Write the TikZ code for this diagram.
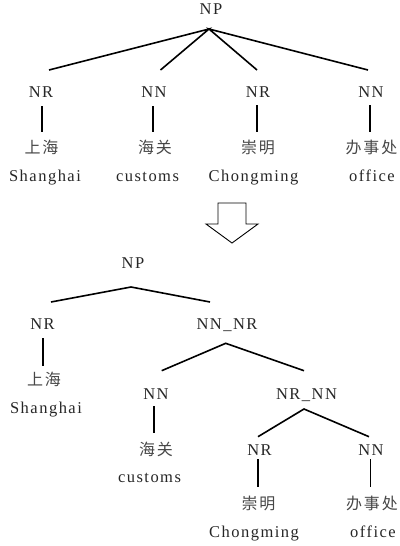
\documentclass[tikz,border=0pt]{standalone}
\usepackage{fontspec}
\setmainfont{Liberation Serif}[LetterSpace=9]
\newfontfamily\cjk{Noto Sans CJK SC}[LetterSpace=12]
\begin{document}
\begin{tikzpicture}[x=1pt,y=-1pt,
  lbl/.style={anchor=base,inner sep=0pt,font=\fontsize{16.5}{19}\selectfont,text=black!85},
  zh/.style={anchor=center,inner sep=0pt,font=\cjk\fontsize{16}{19}\selectfont,text=black!72},
  edge/.style={line width=1.6pt,black},
  bigarrow/.style={line width=0.9pt,black,line join=miter}]
\useasboundingbox (0,0) rectangle (399,546);
% ---------- top tree ----------
\node[lbl] (np1) at (211,14) {NP};
\node[lbl] (a1) at (41,97) {NR};
\node[lbl] (a2) at (154,97) {NN};
\node[lbl] (a3) at (258,97) {NR};
\node[lbl] (a4) at (371,97) {NN};
\node[zh] (z1) at (41.5,147) {上海};
\node[zh] (z2) at (155,147) {海关};
\node[zh] (z3) at (258,147) {崇明};
\node[zh] (z4) at (371.5,147) {办事处};
\node[lbl] (e1) at (45,181) {Shanghai};
\node[lbl] (e2) at (147.5,181) {customs};
\node[lbl] (e3) at (253.5,181) {Chongming};
\node[lbl] (e4) at (372,181) {office};
\draw[edge] ([shift={(8,-27)}]a1.base) -- ([shift={(-2,15)}]np1.base) -- ([shift={(6.5,-27)}]a2.base);
\draw[edge] ([shift={(-1,-27)}]a3.base) -- ([shift={(-2,15)}]np1.base) -- ([shift={(-3,-27)}]a4.base);
\draw[edge] ([shift={(0.7,9)}]a1.base) -- ([shift={(0.2,-15.5)}]z1.center);
\draw[edge] ([shift={(-1,9)}]a2.base) -- ([shift={(-2,-15.5)}]z2.center);
\draw[edge] ([shift={(-1,8)}]a3.base) -- ([shift={(-1,-15.5)}]z3.center);
\draw[edge] ([shift={(-1,8)}]a4.base) -- ([shift={(-1.5,-15.5)}]z4.center);
% ---------- arrow ----------
\draw[bigarrow] (218,203) -- (246,203) -- (246,224) -- (258,224) -- (232,243) -- (206,224) -- (218,224) -- cycle;
% ---------- bottom tree ----------
\node[lbl] (np2) at (133,268) {NP};
\node[lbl] (b1) at (42.5,329) {NR};
\node[lbl] (b2) at (227,329) {NN\_NR};
\node[zh] (z5) at (44,379) {上海};
\node[lbl] (e5) at (46,413) {Shanghai};
\node[lbl] (b3) at (156,399) {NN};
\node[lbl] (b4) at (306.5,399) {NR\_NN};
\node[zh] (z6) at (156,449) {海关};
\node[lbl] (e6) at (149.5,482) {customs};
\node[lbl] (b5) at (259.5,455) {NR};
\node[lbl] (b6) at (371,455) {NN};
\node[zh] (z7) at (258.5,503) {崇明};
\node[zh] (z8) at (372,503) {办事处};
\node[lbl] (e7) at (254,537) {Chongming};
\node[lbl] (e8) at (373,537) {office};
\draw[edge] ([shift={(8.5,-27)}]b1.base) -- ([shift={(-2,19)}]np2.base) -- ([shift={(-17,-27)}]b2.base);
\draw[edge] ([shift={(5.7,-28.3)}]b3.base) -- ([shift={(-1.3,14.3)}]b2.base) -- ([shift={(-2.5,-28.3)}]b4.base);
\draw[edge] ([shift={(-1.5,-18.3)}]b5.base) -- ([shift={(-2.5,10)}]b4.base) -- ([shift={(-2,-18.3)}]b6.base);
\draw[edge] ([shift={(0.5,9)}]b1.base) -- ([shift={(-1,-13)}]z5.center);
\draw[edge] ([shift={(-2,7)}]b3.base) -- ([shift={(-2,-16.3)}]z6.center);
\draw[edge] ([shift={(-1.8,4)}]b5.base) -- ([shift={(-0.8,-16.3)}]z7.center);
\draw[edge] ([shift={(-0.7,4)}]b6.base) -- ([shift={(-1.7,-16.3)}]z8.center);
\end{tikzpicture}
\end{document}
